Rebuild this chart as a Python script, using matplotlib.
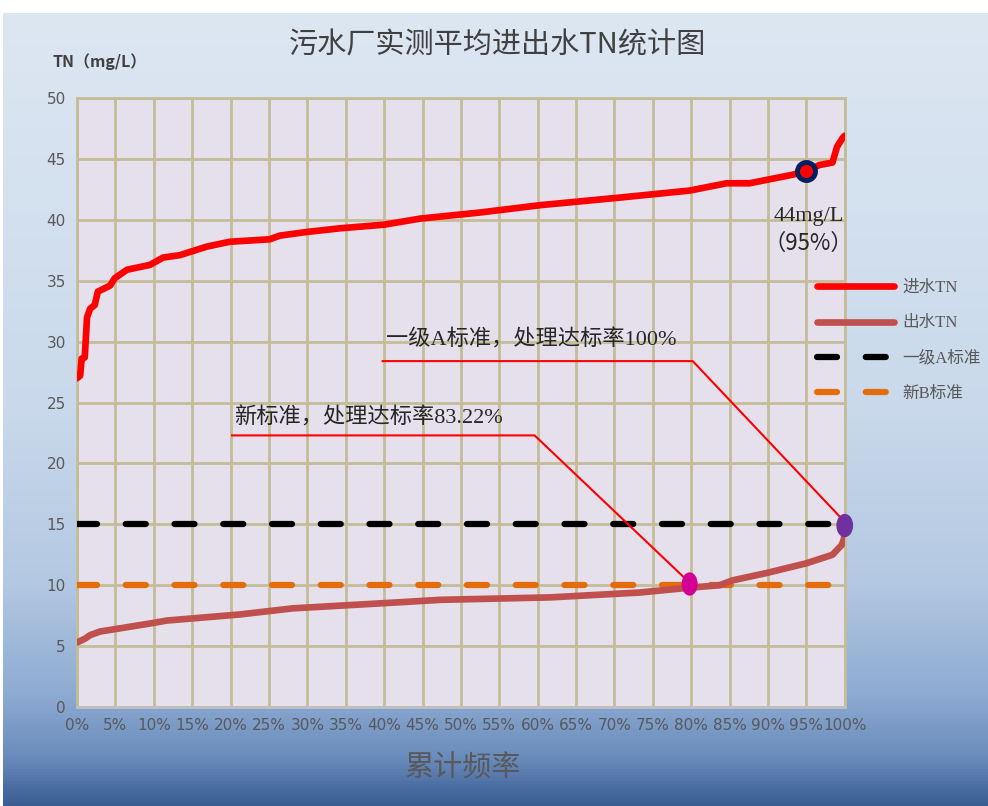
import matplotlib.pyplot as plt
import numpy as np
from matplotlib.colors import LinearSegmentedColormap
from matplotlib.patches import Ellipse

# 数据
in_x = [0, 0.4, 0.6, 1.0, 1.3, 1.7, 2.3, 2.7, 4.3, 4.9, 6.5, 9.5, 11.2, 13.4, 16.9, 19.9,
        25.1, 26.4, 29.9, 34.2, 40, 44.7, 52.5, 60.3, 70.3, 79.8, 84.6, 87.6, 93.2, 95,
        96.7, 98.4, 99.0, 99.7, 100]
in_y = [27.0, 27.2, 28.6, 28.7, 32.0, 32.7, 33.0, 34.1, 34.6, 35.2, 35.9, 36.3, 36.9, 37.1,
        37.8, 38.2, 38.4, 38.7, 39.0, 39.3, 39.6, 40.1, 40.6, 41.2, 41.8, 42.4, 43.0, 43.0,
        43.7, 44.0, 44.5, 44.7, 46.0, 46.7, 46.9]
out_x = [0, 1.0, 1.7, 3.0, 6.0, 9.9, 11.7, 21.2, 28.1, 42, 47.3, 61.6, 73.3, 79.8, 83.7,
         85.4, 89.8, 95, 98.4, 99.6, 99.9, 100]
out_y = [5.3, 5.6, 5.9, 6.2, 6.5, 6.9, 7.1, 7.6, 8.1, 8.6, 8.8, 9.0, 9.4, 9.8, 10.0,
         10.4, 11.0, 11.8, 12.5, 13.3, 13.8, 14.8]
std_a = 15
std_b = 10
xticks = list(range(0, 101, 5))
xtick_labels = [f'{t}%' for t in xticks]
yticks = list(range(0, 51, 5))

cjk = ['Liberation Serif', 'Noto Sans CJK SC']
tickfont = ['Liberation Sans Narrow', 'DejaVu Sans']
plt.rcParams['font.family'] = ['Noto Sans CJK SC', 'DejaVu Sans']

fig = plt.figure(figsize=(9.88, 8.06), dpi=100)
fig.patch.set_facecolor('white')

# 背景渐变
bg = fig.add_axes([0.003, 0, 0.997, 0.984], zorder=-10)
cmap = LinearSegmentedColormap.from_list('bg', [
    (0.0, '#dde7f2'), (0.5, '#c9d9eb'), (0.72, '#b3c8e2'), (0.86, '#8eabd2'),
    (0.94, '#6a8cbd'), (1.0, '#3a5d93')])
bg.imshow(np.linspace(0, 1, 256).reshape(-1, 1), aspect='auto', cmap=cmap,
          extent=[0, 1, 0, 1])
bg.axis('off')

ax = fig.add_axes([0.078, 0.1228, 0.777, 0.7556])
ax.set_facecolor('#e6e0ec')
ax.set_xlim(0, 100)
ax.set_ylim(0, 50)
ax.set_xticks(xticks)
ax.set_xticklabels(xtick_labels)
ax.set_yticks(yticks)
ax.grid(True, color='#c4bd97', linewidth=2)
ax.set_axisbelow(True)
for s in ax.spines.values():
    s.set_color('#c4bd97')
    s.set_linewidth(2)
ax.spines['bottom'].set_color('#bfbfbf')
ax.tick_params(length=0, colors='#595959', labelsize=11, pad=8)
for lab in ax.get_xticklabels() + ax.get_yticklabels():
    lab.set_family(tickfont)

ax.plot(in_x, in_y, color='#ff0000', lw=4.8, label='进水TN', solid_capstyle='round', zorder=4)
ax.plot(out_x, out_y, color='#c0504d', lw=4.8, label='出水TN', solid_capstyle='round', zorder=4)
ax.plot([0, 100], [std_a, std_a], color='black', lw=4.5, ls=(0, (3.2, 4.6)),
        dash_capstyle='round', label='一级A标准', zorder=3)
ax.plot([0, 100], [std_b, std_b], color='#e46c0a', lw=4.5, ls=(0, (3.2, 4.6)),
        dash_capstyle='round', label='新B标准', zorder=3)

# 标注
ax.plot(95, 44.0, 'o', ms=13, mfc='#ff0000', mec='#002060', mew=3.5, zorder=6)
ax.text(95.3, 40.3, '44mg/L', ha='center', va='center', fontsize=16,
        family=cjk, color='#262626')
ax.text(95.3, 38.1, '（95%）', ha='center', va='center', fontsize=16,
        family=['Noto Sans CJK SC'], color='#262626')

ax.plot([39.8, 80.2, 100], [28.4, 28.4, 15.2], color='#ff0000', lw=1.5, zorder=5)
ax.text(40.3, 30.1, '一级A标准，处理达标率100%', fontsize=16, family=cjk,
        va='center', color='#262626')
ax.plot([20.2, 59.6, 79.8], [22.3, 22.3, 10.2], color='#ff0000', lw=1.5, zorder=5)
ax.text(20.5, 23.7, '新标准，处理达标率83.22%', fontsize=16, family=cjk,
        va='center', color='#262626')

ax.add_patch(Ellipse((79.8, 10.1), 1.9, 1.8, color='#d40096', zorder=7, clip_on=False))
ax.add_patch(Ellipse((100, 14.9), 2.0, 1.8, color='#7030a0', zorder=7, clip_on=False))

leg = ax.legend(loc='center left', bbox_to_anchor=(0.812, 0.577),
                bbox_transform=fig.transFigure, frameon=False, fontsize=12,
                handlelength=4.6, labelspacing=1.15, handletextpad=0.5)
for t in leg.get_texts():
    t.set_color('#595959')
    t.set_family(['Liberation Serif', 'Noto Sans CJK SC'])

fig.text(0.503, 0.944, '污水厂实测平均进出水TN统计图', ha='center', va='center',
         fontsize=21, color='#404040')
fig.text(0.053, 0.923, 'TN（mg/L）', ha='left', va='center', fontsize=11.5,
         fontweight='bold', color='#404040')
fig.text(0.468, 0.047, '累计频率', ha='center', va='center', fontsize=21,
         color='#595959')

fig.savefig('out.png', dpi=100)
